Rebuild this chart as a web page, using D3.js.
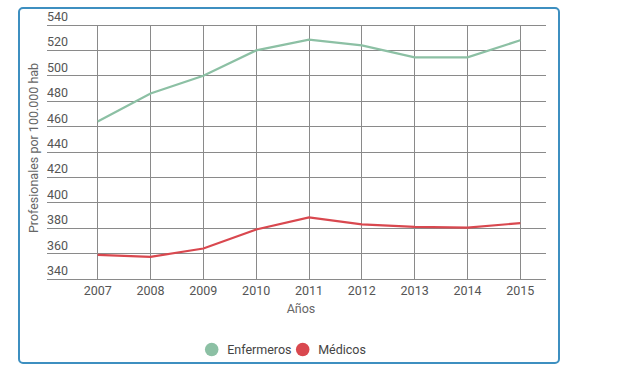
<!DOCTYPE html>
<html><head><meta charset="utf-8">
<script src="https://cdn.jsdelivr.net/npm/d3@7"></script>
<style>body{margin:0;background:#fff;font-family:Roboto,"Noto Sans",sans-serif;}</style>
</head><body>
<svg id="c" width="620" height="368"></svg>
<script>
const years = [2007,2008,2009,2010,2011,2012,2013,2014,2015];
const enfermeros = [464,486,500,520,528.5,524,514.5,514.5,528];
const medicos = [359,357.5,364,379,388.5,383,381,380.5,384];
const yTicks = [340,360,380,400,420,440,460,480,500,520,540];
const seriesNames = ["Enfermeros","Médicos"];
const colors = ["#8cc0a4","#d9484f"];

(function(){
const svg = d3.select("#c");
svg.append("rect").attr("x",19).attr("y",8).attr("width",540).attr("height",355)
  .attr("rx",4).attr("fill","#fff").attr("stroke","#3d8fc0").attr("stroke-width",2);

const pL=47,pR=546,pT=25,pB=279;
const x = d3.scaleLinear().domain([2007,2015]).range([97.7,520.3]);
const y = d3.scaleLinear().domain([340,540]).range([pB,pT]);

svg.append("g").selectAll("line").data(yTicks).join("line")
  .attr("x1",pL).attr("x2",pR).attr("y1",d=>y(d)).attr("y2",d=>y(d))
  .attr("stroke","#8a8a8a").attr("stroke-width",1).attr("shape-rendering","crispEdges");
svg.append("g").selectAll("line").data(years).join("line")
  .attr("x1",d=>x(d)).attr("x2",d=>x(d)).attr("y1",pT).attr("y2",pB)
  .attr("stroke","#8a8a8a").attr("stroke-width",1).attr("shape-rendering","crispEdges");

svg.append("g").selectAll("text").data(yTicks).join("text")
  .attr("x",pL).attr("y",d=>y(d)-4).text(d=>d)
  .attr("font-size",12.5).attr("fill","#555");
svg.append("g").selectAll("text").data(years).join("text")
  .attr("x",d=>x(d)).attr("y",294.5).attr("text-anchor","middle").text(d=>d)
  .attr("font-size",12.5).attr("fill","#555");

svg.append("text").attr("x",301).attr("y",312.5).attr("text-anchor","middle")
  .attr("font-size",12.5).attr("fill","#666").text("Años");
svg.append("text").attr("transform","translate(38,148) rotate(-90)").attr("text-anchor","middle")
  .attr("font-size",12.5).attr("fill","#666").text("Profesionales por 100.000 hab");

const line = d3.line().x((d,i)=>x(years[i])).y(d=>y(d));
[enfermeros,medicos].forEach((s,k)=>{
  svg.append("path").datum(s).attr("d",line).attr("fill","none")
    .attr("stroke",colors[k]).attr("stroke-width",2.2);
});

const lx=[211.7,302.7];
seriesNames.forEach((n,k)=>{
  svg.append("circle").attr("cx",lx[k]).attr("cy",349.5).attr("r",6.8).attr("fill",colors[k]);
  svg.append("text").attr("x",lx[k]+15.5).attr("y",354).attr("font-size",12.5)
    .attr("fill","#444").text(n);
});
})();
</script>
</body></html>
